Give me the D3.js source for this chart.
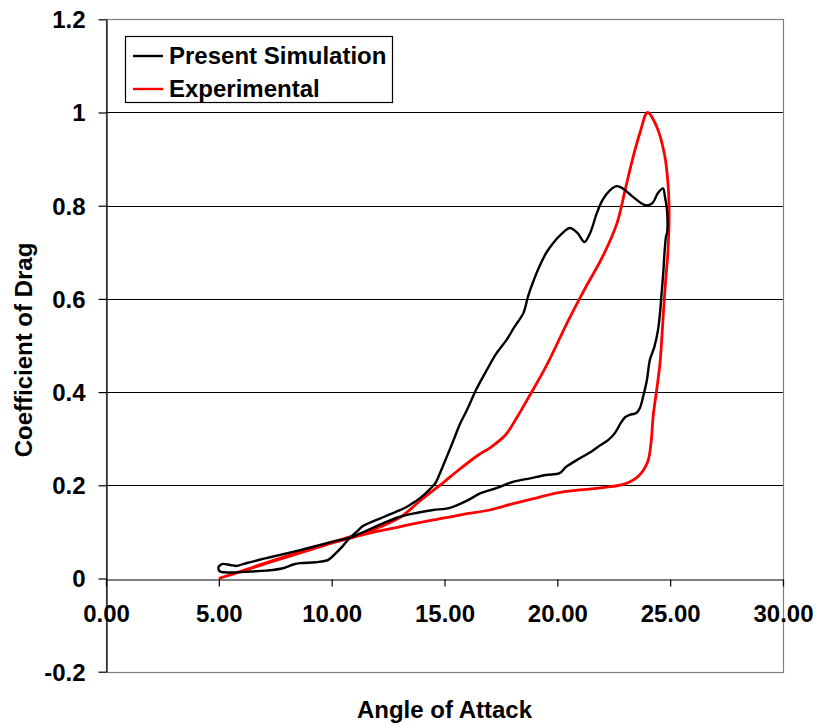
<!DOCTYPE html>
<html>
<head>
<meta charset="utf-8">
<script src="https://cdn.jsdelivr.net/npm/d3@7"></script>
<style>
  html, body { margin: 0; padding: 0; background: #fff; }
  svg text { font-family: "Liberation Sans", Arial, sans-serif; font-weight: bold; fill: #000; }
</style>
</head>
<body>
<svg id="chart" width="819" height="727"></svg>
<script>
// Angle of attack (deg) and drag coefficient, simulated loop
const simAlpha = [4.98, 5.0, 5.1, 5.6, 6.4, 7.1, 7.85, 8.3, 8.6, 9.3, 9.85, 10.2, 10.5, 10.8, 11.1, 11.4,
  11.8, 12.3, 12.8, 13.3, 13.6, 13.9, 14.36, 14.6, 14.8, 15.1, 15.4, 15.7, 16.0, 16.4, 16.87, 17.3, 17.75,
  18.1, 18.5, 18.7, 18.9, 19.2, 19.5, 19.8, 20.2, 20.56, 20.9, 21.2, 21.45, 21.75, 22.0, 22.33, 22.64, 22.9,
  23.35, 23.9, 24.2, 24.46, 24.68, 24.77, 24.86, 24.86, 24.82, 24.75, 24.7, 24.6, 24.55, 24.46, 24.3, 24.1,
  23.97, 23.8, 23.66, 23.5, 23.2, 23.0, 22.8, 22.55, 22.25, 21.9, 21.5, 21.0, 20.4, 20.1, 19.5, 18.8, 18.0,
  17.3, 16.6, 16.0, 15.2, 14.5, 13.8, 13.0, 12.3, 11.6, 10.94, 10.06, 8.6, 7.13, 6.07, 5.8, 5.5, 5.14, 4.98];
const simCd = [0.025, 0.018, 0.014, 0.013, 0.015, 0.017, 0.022, 0.030, 0.033, 0.035, 0.040, 0.055, 0.070, 0.087, 0.100, 0.113,
  0.122, 0.132, 0.142, 0.153, 0.162, 0.172, 0.192, 0.205, 0.226, 0.261, 0.297, 0.333, 0.362, 0.405, 0.447, 0.483, 0.512,
  0.540, 0.570, 0.605, 0.633, 0.669, 0.698, 0.719, 0.740, 0.752, 0.741, 0.722, 0.741, 0.784, 0.812, 0.833, 0.842, 0.837,
  0.819, 0.801, 0.805, 0.827, 0.837, 0.819, 0.790, 0.741, 0.735, 0.700, 0.660, 0.600, 0.570, 0.533, 0.497, 0.469,
  0.426, 0.390, 0.366, 0.355, 0.351, 0.346, 0.333, 0.312, 0.297, 0.286, 0.272, 0.258, 0.240, 0.226, 0.222, 0.215, 0.207,
  0.194, 0.183, 0.167, 0.151, 0.147, 0.141, 0.132, 0.119, 0.104, 0.090, 0.079, 0.061, 0.044, 0.031, 0.027, 0.029, 0.031, 0.025];

// Measured loop
const expAlpha = [5.0, 6.0, 7.0, 8.0, 9.0, 10.0, 11.0, 12.0, 13.0, 14.0, 15.0, 16.0, 17.0, 18.0, 19.0, 20.0, 21.0, 22.0,
  23.0, 23.6, 24.0, 24.15, 24.25, 24.4, 24.55, 24.7, 24.8, 24.9, 24.95, 24.95, 24.9, 24.75, 24.4, 24.0, 23.66, 23.36,
  23.0, 22.64, 22.0, 21.2, 20.5, 19.5, 18.8, 18.2, 17.7, 17.0, 16.5, 15.5, 15.0, 14.0, 13.0, 12.0, 11.0, 10.0, 8.0, 6.0, 5.0];
const expCd = [0.0, 0.015, 0.031, 0.046, 0.061, 0.076, 0.089, 0.101, 0.111, 0.121, 0.130, 0.139, 0.147, 0.160, 0.172, 0.184, 0.190, 0.195,
  0.203, 0.220, 0.250, 0.290, 0.350, 0.404, 0.462, 0.570, 0.640, 0.700, 0.760, 0.800, 0.850, 0.910, 0.970, 1.0, 0.956, 0.905,
  0.833, 0.762, 0.690, 0.620, 0.555, 0.455, 0.395, 0.345, 0.308, 0.280, 0.265, 0.228, 0.208, 0.170, 0.130, 0.108, 0.092, 0.078, 0.048, 0.016, 0.0];

const xTicks = [0, 5, 10, 15, 20, 25, 30];
const xTickLabels = ["0.00", "5.00", "10.00", "15.00", "20.00", "25.00", "30.00"];
const yTicks = [-0.2, 0, 0.2, 0.4, 0.6, 0.8, 1.0, 1.2];
const yTickLabels = ["-0.2", "0", "0.2", "0.4", "0.6", "0.8", "1", "1.2"];
const seriesNames = ["Present Simulation", "Experimental"];
const seriesColors = ["#000000", "#ff0000"];

const svg = d3.select("#chart");
const plotLeft = 106, plotRight = 783, plotTop = 19.3, plotBottom = 671.7;
const fontSize = "24px";
const x = d3.scaleLinear().domain([0, 30]).range([plotLeft, plotRight]);
const y = d3.scaleLinear().domain([-0.2, 1.2]).range([plotBottom, plotTop]);

// Horizontal gridlines
svg.append("g").selectAll("line")
  .data([0.2, 0.4, 0.6, 0.8, 1.0])
  .join("line")
  .attr("x1", plotLeft).attr("x2", plotRight)
  .attr("y1", d => Math.round(y(d)) + 0.5).attr("y2", d => Math.round(y(d)) + 0.5)
  .attr("stroke", "#000").attr("stroke-width", 1);

// Plot frame
svg.append("rect")
  .attr("x", plotLeft + 0.5).attr("y", Math.round(plotTop) + 0.5)
  .attr("width", plotRight - plotLeft).attr("height", Math.round(plotBottom) - Math.round(plotTop))
  .attr("fill", "none").attr("stroke", "#808080").attr("stroke-width", 1.2);

// Data lines
const simData = simAlpha.map((a, i) => [a, simCd[i]]);
const expData = expAlpha.map((a, i) => [a, expCd[i]]);

svg.append("path")
  .datum(expData)
  .attr("fill", "none").attr("stroke", seriesColors[1]).attr("stroke-width", 2.8)
  .attr("stroke-linejoin", "round")
  .attr("d", d3.line().x(d => x(d[0])).y(d => y(d[1])).curve(d3.curveCatmullRom.alpha(0.5)));

svg.append("path")
  .datum(simData)
  .attr("fill", "none").attr("stroke", seriesColors[0]).attr("stroke-width", 2.4)
  .attr("stroke-linejoin", "round")
  .attr("d", d3.line().x(d => x(d[0])).y(d => y(d[1])).curve(d3.curveCatmullRom.alpha(0.5)));

// X axis along Cd = 0
const xAxis = svg.append("g")
  .attr("transform", `translate(0,${Math.round(y(0)) + 0.5})`)
  .call(d3.axisBottom(x).tickValues(xTicks).tickFormat((d, i) => xTickLabels[i]).tickSize(7).tickSizeOuter(0));
xAxis.select(".domain").attr("stroke", "#000").attr("stroke-width", 1.2);
xAxis.selectAll(".tick line").attr("stroke", "#000").attr("stroke-width", 1.2);
xAxis.selectAll(".tick text")
  .attr("y", 42.5).attr("dy", 0)
  .style("font-size", fontSize).style("font-family", "'Liberation Sans', Arial, sans-serif").style("font-weight", "bold");

// Y axis
const yAxis = svg.append("g")
  .attr("transform", `translate(${plotLeft + 0.5},0)`)
  .call(d3.axisLeft(y).tickValues(yTicks).tickFormat((d, i) => yTickLabels[i]).tickSize(8).tickSizeOuter(0).tickPadding(13));
yAxis.select(".domain").attr("stroke", "#000").attr("stroke-width", 1.2);
yAxis.selectAll(".tick line").attr("stroke", "#000").attr("stroke-width", 1.2);
yAxis.selectAll(".tick text")
  .attr("dy", "0.35em")
  .style("font-size", fontSize).style("font-family", "'Liberation Sans', Arial, sans-serif").style("font-weight", "bold");

// Axis titles
svg.append("text")
  .attr("x", (plotLeft + plotRight) / 2).attr("y", 718)
  .attr("text-anchor", "middle").style("font-size", fontSize)
  .text("Angle of Attack");
svg.append("text")
  .attr("transform", "translate(32,350) rotate(-90)")
  .attr("text-anchor", "middle").style("font-size", fontSize)
  .text("Coefficient of Drag");

// Legend
const legend = svg.append("g");
legend.append("rect")
  .attr("x", 125.5).attr("y", 36.5).attr("width", 267).attr("height", 66)
  .attr("fill", "#fff").attr("stroke", "#000").attr("stroke-width", 1.2);
const rows = legend.selectAll("g.row").data(seriesNames).join("g")
  .attr("class", "row")
  .attr("transform", (d, i) => `translate(0,${56 + i * 33})`);
rows.append("line")
  .attr("x1", 133).attr("x2", 163).attr("y1", 0).attr("y2", 0)
  .attr("stroke", (d, i) => seriesColors[i]).attr("stroke-width", 2.4);
rows.append("text")
  .attr("x", 169).attr("y", 7.5)
  .style("font-size", fontSize)
  .text(d => d);
</script>
</body>
</html>
